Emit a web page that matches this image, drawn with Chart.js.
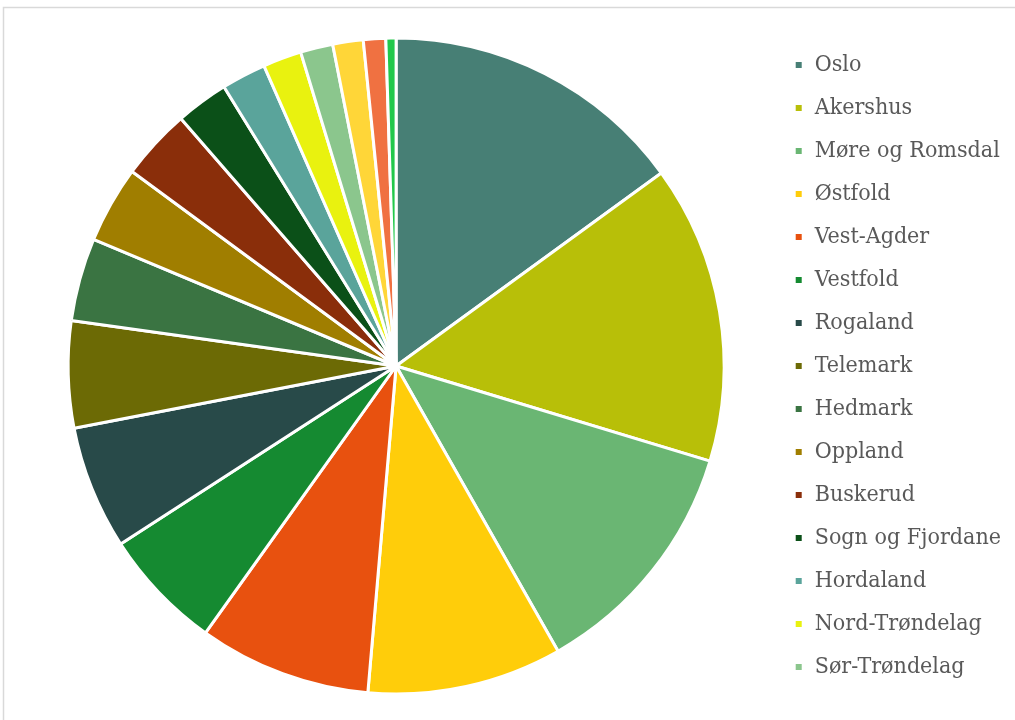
<!DOCTYPE html>
<html>
<head>
<meta charset="utf-8">
<script src="https://cdn.jsdelivr.net/npm/chart.js@4/dist/chart.umd.min.js"></script>
<style>
  html, body { margin: 0; padding: 0; background: #ffffff; }
  #wrap { width: 1015px; height: 720px; position: relative; }
</style>
</head>
<body>
<div id="wrap"><canvas id="c" width="1015" height="720"></canvas></div>
<script>
// Share by county (percent), clockwise from 12 o'clock
const counties = [
  'Oslo', 'Akershus', 'Møre og Romsdal', 'Østfold', 'Vest-Agder', 'Vestfold',
  'Rogaland', 'Telemark', 'Hedmark', 'Oppland', 'Buskerud', 'Sogn og Fjordane',
  'Hordaland', 'Nord-Trøndelag', 'Sør-Trøndelag', 'Nordland', 'Troms', 'Aust-Agder'
];
const shares = [
  15.0, 14.7, 12.1, 9.6, 8.5, 6.0,
  6.1, 5.25, 4.1, 3.8, 3.5, 2.6,
  2.2, 1.9, 1.6, 1.5, 1.1, 0.5
];
const sliceColors = [
  '#477f75', '#b8bf08', '#6ab673', '#ffcd0a', '#e8510f', '#158a31',
  '#284a49', '#6c6a05', '#3a7442', '#a07e00', '#8a2e0a', '#0b5018',
  '#5aa49b', '#e9f20f', '#8bc68d', '#ffd638', '#f07141', '#22c84b'
];
const legendCount = 15;

// light frame around the chart
const framePlugin = {
  id: 'frame',
  beforeDraw(chart) {
    const ctx = chart.ctx;
    ctx.save();
    ctx.fillStyle = '#ffffff';
    ctx.fillRect(0, 0, chart.width, chart.height);
    ctx.strokeStyle = '#d9d9d9';
    ctx.lineWidth = 1.5;
    ctx.strokeRect(3.5, 7.5, chart.width + 20, chart.height + 20);
    ctx.restore();
  }
};

new Chart(document.getElementById('c'), {
  type: 'pie',
  data: {
    labels: counties,
    datasets: [{
      data: shares,
      backgroundColor: sliceColors,
      borderColor: '#ffffff',
      borderWidth: 3,
      radius: 328
    }]
  },
  options: {
    responsive: false,
    animation: false,
    layout: { padding: { left: 18, top: 12, bottom: 0, right: 4 } },
    plugins: {
      tooltip: { enabled: false },
      legend: {
        position: 'right',
        labels: {
          boxWidth: 9,
          boxHeight: 9,
          padding: 20,
          color: '#595959',
          font: { family: '"DejaVu Serif Condensed", "DejaVu Serif", serif', size: 23 },
          filter: (item) => item.index < legendCount
        }
      }
    }
  },
  plugins: [framePlugin]
});
</script>
</body>
</html>
